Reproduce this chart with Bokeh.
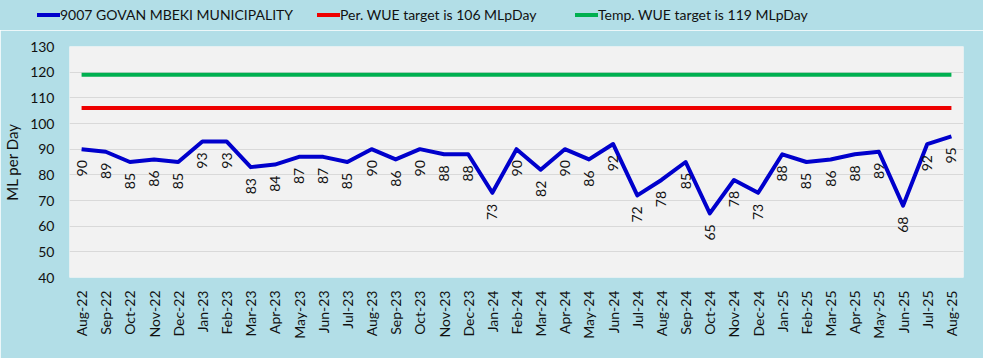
from math import pi
from bokeh.plotting import figure
from bokeh.layouts import column
from bokeh.models import Range1d, FactorRange, FixedTicker, Div
from bokeh.embed import file_html
from bokeh.resources import INLINE
from bokeh.core.properties import value

months = ["Aug-22", "Sep-22", "Oct-22", "Nov-22", "Dec-22", "Jan-23", "Feb-23", "Mar-23",
          "Apr-23", "May-23", "Jun-23", "Jul-23", "Aug-23", "Sep-23", "Oct-23", "Nov-23",
          "Dec-23", "Jan-24", "Feb-24", "Mar-24", "Apr-24", "May-24", "Jun-24", "Jul-24",
          "Aug-24", "Sep-24", "Oct-24", "Nov-24", "Dec-24", "Jan-25", "Feb-25", "Mar-25",
          "Apr-25", "May-25", "Jun-25", "Jul-25", "Aug-25"]
usage = [90, 89, 85, 86, 85, 93, 93, 83, 84, 87, 87, 85, 90, 86, 90, 88, 88, 73, 90, 82,
         90, 86, 92, 72, 78, 85, 65, 78, 73, 88, 85, 86, 88, 89, 68, 92, 95]
per_target = 106
temp_target = 119
series_name = "9007 GOVAN MBEKI MUNICIPALITY"
per_name = "Per. WUE target is 106 MLpDay"
temp_name = "Temp. WUE target is 119 MLpDay"
y_ticks = [40, 50, 60, 70, 80, 90, 100, 110, 120, 130]

BG = "#b2dee7"
FONT = "Lato"
BLUE, RED, GREEN = "#0000cc", "#ee0000", "#00b050"

# ---- legend strip (HTML text) ----
def item(color, label, glyph_left):
    return ('<span style="position:absolute;left:%dpx;top:13px;width:23px;height:4px;'
            'background:%s;"></span>'
            '<span style="position:absolute;left:%dpx;top:6px;line-height:18px;'
            'white-space:nowrap;">%s</span>') % (glyph_left, color, glyph_left + 23, label)

legend_html = ('<div style="position:relative;width:983px;height:30px;font-family:Lato;'
               'font-size:14px;color:#111111;">'
               + item(BLUE, series_name, 37)
               + item(RED, per_name, 317)
               + item(GREEN, temp_name, 575)
               + '</div>')
leg = Div(text=legend_html, width=983, height=30, margin=0,
          styles={"background-color": BG})

# ---- main chart ----
p = figure(width=983, height=328, x_range=FactorRange(*months), y_range=Range1d(40, 130),
           output_backend="svg", toolbar_location=None,
           min_border_left=68, min_border_right=20, min_border_top=16, min_border_bottom=81,
           background_fill_color="#f2f2f2", border_fill_color=BG, outline_line_color=None)

per_vals = [per_target] * len(months)
temp_vals = [temp_target] * len(months)

p.line(months, temp_vals, line_color=GREEN, line_width=4)
p.line(months, per_vals, line_color=RED, line_width=4)
p.line(months, usage, line_color=BLUE, line_width=4, line_join="round")

p.text(x=months, y=usage, text=[str(v) for v in usage], angle=pi / 2,
       text_align="right", text_baseline="middle", y_offset=11,
       text_font=value(FONT), text_font_size="14px", text_color="#111111")

p.xgrid.grid_line_color = None
p.ygrid.grid_line_color = "#d9d9d9"
p.ygrid.grid_line_width = 1
p.yaxis.ticker = FixedTicker(ticks=y_ticks)

for ax in (p.xaxis[0], p.yaxis[0]):
    ax.axis_line_color = None
    ax.major_tick_line_color = None
    ax.minor_tick_line_color = None
    ax.major_tick_out = 0
    ax.major_tick_in = 0
    ax.minor_tick_out = 0
    ax.major_label_text_font = FONT
    ax.major_label_text_font_size = "14px"
    ax.major_label_text_color = "#111111"

p.xaxis.major_label_orientation = pi / 2
p.xaxis.major_label_standoff = 13
p.yaxis.major_label_standoff = 15
p.yaxis.axis_label = "ML per Day"
p.yaxis.axis_label_text_font = FONT
p.yaxis.axis_label_text_font_style = "normal"
p.yaxis.axis_label_text_font_size = "15px"
p.yaxis.axis_label_text_color = "#111111"
p.yaxis.axis_label_standoff = 6

layout = column(leg, p, spacing=0)
open("out.html", "w").write(file_html(layout, INLINE))
